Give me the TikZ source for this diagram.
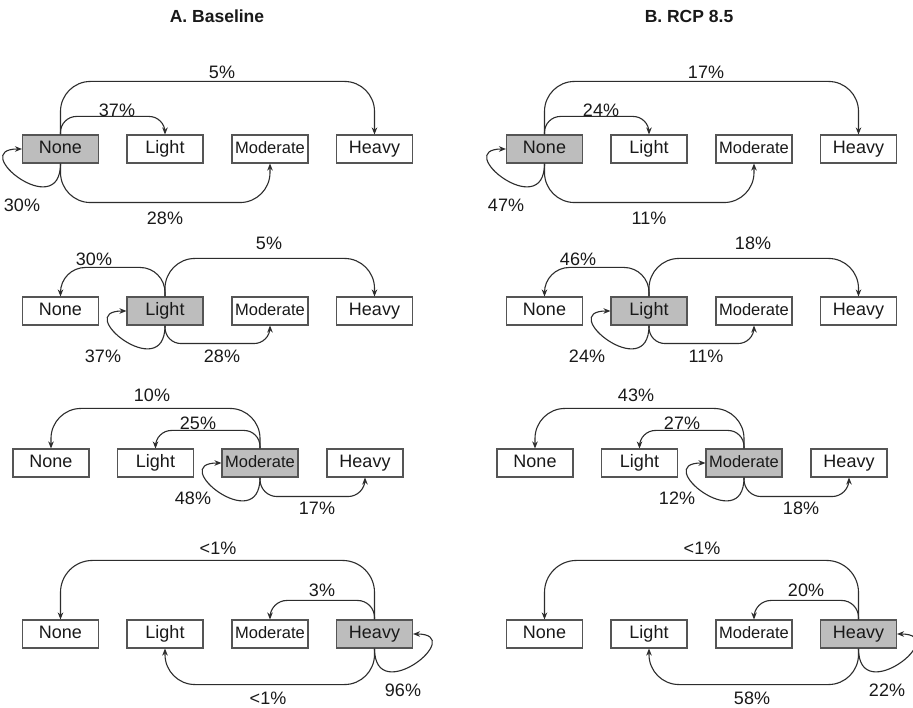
\documentclass[tikz,border=0pt]{standalone}
\usepackage{fontspec}
\setmainfont{Liberation Sans}
\usetikzlibrary{arrows.meta}
\definecolor{boxgray}{RGB}{189,189,189}
\definecolor{edgec}{RGB}{85,85,85}
\definecolor{linec}{RGB}{45,45,45}
\definecolor{txt}{RGB}{25,25,25}
\tikzset{
  stbox/.style={draw=edgec, line width=1.1pt, fill=white, minimum width=76pt,
    minimum height=28pt, inner sep=0pt, text=txt, text height=12.9pt, text depth=4.6pt,
    font=\fontsize{18}{18}\selectfont},
  curbox/.style={stbox, fill=boxgray},
  modtxt/.style={font=\fontsize{16.5}{16.5}\selectfont},
  pct/.style={text=txt, inner sep=0pt, text height=12.9pt, text depth=0pt,
    font=\fontsize{18}{18}\selectfont},
  ttl/.style={text=txt, inner sep=0pt, text height=12.5pt, text depth=0pt,
    font=\bfseries\fontsize{17.5}{17.5}\selectfont},
  arr/.style={draw=linec, line width=1.1pt, -{Stealth[length=7pt,width=5.5pt]}},
}
% row 1: None is the current state
\newcommand\rowone[4]{%
  \node[curbox] (N1) at (60.5,558) {None};
  \node[stbox] (L1) at (165,558) {Light};
  \node[stbox,modtxt] (M1) at (270,558) {Moderate};
  \node[stbox] (H1) at (374.5,558) {Heavy};
  \draw[arr, rounded corners=30pt] (N1.north) -- ++(0,53) -| (H1.north);
  \draw[arr, rounded corners=16pt] (N1.north) -- ++(0,18) -| (L1.north);
  \draw[arr, rounded corners=30pt] (N1.south) -- ++(0,-39) -| (M1.south);
  \draw[arr] (N1.south) .. controls +(0,-60) and +(-55,0) .. (N1.west);
  \node[pct] (p1a) at (222,635) {#1};
  \node[pct] (p1b) at (117,597) {#2};
  \node[pct] (p1c) at (22,502) {#3};
  \node[pct] (p1d) at (165,489) {#4};
}
% row 2: Light is the current state
\newcommand\rowtwo[4]{%
  \node[stbox] (N2) at (60.5,396) {None};
  \node[curbox] (L2) at (165,396) {Light};
  \node[stbox,modtxt] (M2) at (270,396) {Moderate};
  \node[stbox] (H2) at (374.5,396) {Heavy};
  \draw[arr, rounded corners=30pt] (L2.north) -- ++(0,38) -| (H2.north);
  \draw[arr, rounded corners=25pt] (L2.north) -- ++(0,29) -| (N2.north);
  \draw[arr] (L2.south) .. controls +(0,-60) and +(-55,0) .. (L2.west);
  \draw[arr, rounded corners=16pt] (L2.south) -- ++(0,-18) -| (M2.south);
  \node[pct] (p2a) at (269,464) {#1};
  \node[pct] (p2b) at (94,448) {#2};
  \node[pct] (p2c) at (103,351) {#3};
  \node[pct] (p2d) at (222,351) {#4};
}
% row 3: Moderate is the current state
\newcommand\rowthree[4]{%
  \node[stbox] (N3) at (51,244) {None};
  \node[stbox] (L3) at (155.5,244) {Light};
  \node[curbox,modtxt] (M3) at (260,244) {Moderate};
  \node[stbox] (H3) at (365,244) {Heavy};
  \draw[arr, rounded corners=30pt] (M3.north) -- ++(0,40) -| (N3.north);
  \draw[arr, rounded corners=16pt] (M3.north) -- ++(0,18) -| (L3.north);
  \draw[arr] (M3.south) .. controls +(0,-60) and +(-55,0) .. (M3.west);
  \draw[arr, rounded corners=17pt] (M3.south) -- ++(0,-19) -| (H3.south);
  \node[pct] (p3a) at (152,312) {#1};
  \node[pct] (p3b) at (198,284) {#2};
  \node[pct] (p3c) at (193,209) {#3};
  \node[pct] (p3d) at (317,199) {#4};
}
% row 4: Heavy is the current state
\newcommand\rowfour[4]{%
  \node[stbox] (N4) at (60.5,73) {None};
  \node[stbox] (L4) at (165,73) {Light};
  \node[stbox,modtxt] (M4) at (270,73) {Moderate};
  \node[curbox] (H4) at (374.5,73) {Heavy};
  \draw[arr, rounded corners=32pt] (H4.north) -- ++(0,59) -| (N4.north);
  \draw[arr, rounded corners=17pt] (H4.north) -- ++(0,19) -| (M4.north);
  \draw[arr, rounded corners=30pt] (H4.south) -- ++(0,-36) -| (L4.south);
  \draw[arr] (H4.south) .. controls +(0,-60) and +(55,0) .. (H4.east);
  \node[pct] (p4a) at (218,159) {#1};
  \node[pct] (p4b) at (322,117) {#2};
  \node[pct] (p4c) at (268,9) {#3};
  \node[pct] (p4d) at (403,17) {#4};
}
\begin{document}
\begin{tikzpicture}[x=1pt, y=1pt]
  \useasboundingbox (0,0) rectangle (913,707);
  \fill[white] (0,0) rectangle (913,707);
  \node[ttl] (titleA) at (217,691) {A. Baseline};
  \node[ttl] (titleB) at (689,691) {B. RCP 8.5};
  \begin{scope}[name prefix=A-]
    \rowone{5\%}{37\%}{30\%}{28\%}
    \rowtwo{5\%}{30\%}{37\%}{28\%}
    \rowthree{10\%}{25\%}{48\%}{17\%}
    \rowfour{<1\%}{3\%}{<1\%}{96\%}
  \end{scope}
  \begin{scope}[name prefix=B-, xshift=484pt]
    \rowone{17\%}{24\%}{47\%}{11\%}
    \rowtwo{18\%}{46\%}{24\%}{11\%}
    \rowthree{43\%}{27\%}{12\%}{18\%}
    \rowfour{<1\%}{20\%}{58\%}{22\%}
  \end{scope}
\end{tikzpicture}
\end{document}
